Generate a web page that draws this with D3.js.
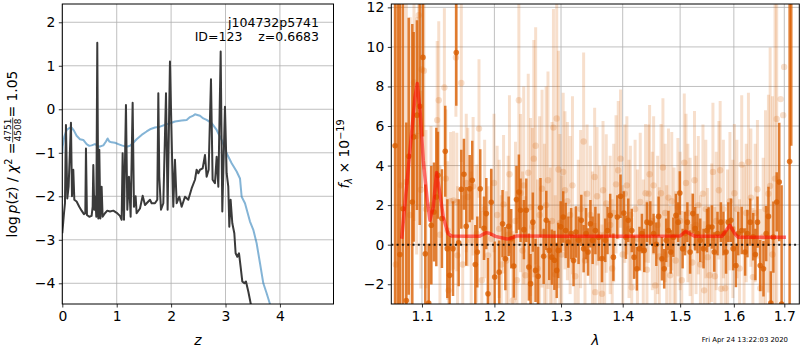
<!DOCTYPE html>
<html>
<head>
<meta charset="utf-8">
<script src="https://cdn.jsdelivr.net/npm/d3@7"></script>
<style>
  body { margin: 0; background: #fff; }
  svg { display: block; }
  text { font-family: "DejaVu Sans", sans-serif; fill: #000; }
</style>
</head>
<body>
<svg id="fig" width="800" height="350"></svg>
<script>
// ---------------- redshift panel ----------------
const zTicks = [0, 1, 2, 3, 4];
const logpTicks = [-4, -3, -2, -1, 0, 1, 2];

// log p(z) curve
const pzZ = [0.000,0.031,0.049,0.067,0.092,0.116,0.159,0.178,0.202,0.221,0.263,0.312,0.355,0.398,0.423,0.435,0.453,0.496,0.539,0.558,0.570,0.588,0.607,0.625,0.643,0.662,0.680,0.699,0.723,0.741,0.784,0.827,0.876,0.938,1.000,1.060,1.091,1.109,1.134,1.170,1.195,1.225,1.256,1.293,1.317,1.348,1.366,1.428,1.477,1.520,1.612,1.642,1.703,1.746,1.765,1.783,1.814,1.857,1.906,1.936,1.979,2.016,2.040,2.071,2.102,2.151,2.194,2.255,2.316,2.377,2.439,2.469,2.500,2.531,2.580,2.623,2.653,2.690,2.733,2.763,2.806,2.837,2.868,2.911,2.941,2.990,3.021,3.051,3.070,3.094,3.125,3.162,3.186,3.217,3.248,3.278,3.309,3.346,3.376,3.419,3.462,3.486];
const pzLog = [-2.85,-2.39,-2.16,-0.36,-2.05,-1.78,-0.31,-2.00,-1.39,-2.08,-2.12,-2.24,-2.33,-2.41,-2.39,-0.90,-2.43,-2.47,-2.45,-2.24,-1.28,-2.31,-2.01,-2.47,1.53,-2.51,-0.93,-2.51,-1.78,-2.47,-2.39,-2.33,-2.35,-2.33,-2.38,-2.45,-2.54,-1.01,-2.54,0.10,-2.31,-1.55,-2.47,0.15,-2.24,-2.00,-2.39,-2.28,-1.99,-2.20,-2.08,-2.16,-2.16,-2.08,0.37,-1.55,-2.31,-2.16,0.37,-2.31,1.10,-1.01,-2.24,-1.16,-2.16,-2.01,-2.24,-2.01,-2.08,-1.82,-1.62,-1.39,-1.47,-1.39,-1.36,-1.05,-1.55,-1.39,0.69,-1.62,-1.70,-1.09,-1.78,1.33,-2.35,0.06,-1.47,-1.78,-2.70,-2.08,-2.62,-2.85,-3.31,-3.39,-3.31,-3.62,-3.96,-4.00,-3.96,-4.19,-4.46,-4.61];

// smooth chi-square curve
const chiZ = [0.000,0.006,0.037,0.080,0.129,0.172,0.214,0.263,0.325,0.386,0.447,0.496,0.539,0.600,0.680,0.754,0.803,0.833,0.864,0.907,0.968,1.029,1.091,1.183,1.244,1.305,1.366,1.458,1.550,1.612,1.703,1.795,1.918,2.010,2.071,2.194,2.286,2.347,2.408,2.439,2.482,2.531,2.592,2.653,2.745,2.837,2.929,3.021,3.113,3.205,3.266,3.297,3.358,3.450,3.511,3.572,3.634,3.695,3.756,3.817,3.850];
const chiVal = [-1.01,-0.86,-0.63,-0.475,-0.43,-0.42,-0.49,-0.61,-0.69,-0.705,-0.80,-0.84,-0.83,-0.80,-0.86,-0.83,-0.74,-0.67,-0.74,-0.76,-0.77,-0.80,-0.83,-0.86,-0.84,-0.77,-0.69,-0.59,-0.51,-0.46,-0.42,-0.40,-0.345,-0.31,-0.28,-0.26,-0.245,-0.18,-0.145,-0.115,-0.13,-0.15,-0.21,-0.245,-0.32,-0.475,-0.705,-1.01,-1.24,-1.43,-1.59,-2.01,-2.16,-2.58,-2.77,-3.08,-3.54,-4.00,-4.23,-4.475,-4.70];

// ---------------- spectrum panel ----------------
const waveTicks = [1.1, 1.2, 1.3, 1.4, 1.5, 1.6, 1.7];
const fluxTicks = [-2, 0, 2, 4, 6, 8, 10, 12];

const darkWave = [1.0650,1.0685,1.0712,1.0752,1.0795,1.0826,1.0873,1.0891,1.0934,1.0970,1.1013,1.1044,1.1089,1.1124,1.1160,1.1191,1.1213,1.1267,1.1312,1.1340,1.1372,1.1418,1.1463,1.1496,1.1532,1.1569,1.1601,1.1649,1.1685,1.1728,1.1756,1.1798,1.1851,1.1884,1.1908,1.1955,1.2004,1.2069,1.2118,1.2159,1.2208,1.2245,1.2283,1.2323,1.2358,1.2383,1.2433,1.2469,1.2507,1.2533,1.2567,1.2608,1.2648,1.2683,1.2732,1.2772,1.2817,1.2858,1.2897,1.2933,1.2957,1.2995,1.3034,1.3073,1.3115,1.3159,1.3197,1.3235,1.3277,1.3321,1.3358,1.3397,1.3429,1.3467,1.3504,1.3548,1.3601,1.3656,1.3710,1.3747,1.3791,1.3844,1.3909,1.3964,1.4019,1.4054,1.4094,1.4153,1.4193,1.4240,1.4285,1.4327,1.4367,1.4414,1.4472,1.4529,1.4577,1.4617,1.4676,1.4716,1.4751,1.4791,1.4833,1.4878,1.4925,1.4965,1.4995,1.5045,1.5088,1.5131,1.5181,1.5231,1.5274,1.5317,1.5367,1.5428,1.5492,1.5522,1.5585,1.5628,1.5689,1.5753,1.5801,1.5851,1.5894,1.5944,1.5987,1.6040,1.6085,1.6152,1.6218,1.6263,1.6317,1.6376,1.6420,1.6461,1.6515,1.6580,1.6634,1.6679,1.6727,1.6778,1.6846,1.6897,1.6945,1.7109,1.7143];
const darkFlux = [5.0,-4.0,-0.5,1.82,-2.82,4.47,2.16,5.45,6.55,7.0,9.47,-0.46,-2.95,0.98,1.65,2.41,3.51,1.32,4.72,-0.2,-1.55,-0.2,9.72,0.1,2.8,3.56,0.93,2.83,3.26,-1.0,-0.37,2.83,0.83,1.57,-2.48,2.14,-1.64,-1.39,1.06,-0.71,0.93,0.3,-1.08,2.28,2.66,1.74,0.76,1.74,-1.13,-1.97,1.14,-1.3,-1.6,1.87,-0.59,1.23,-0.29,-0.63,-0.79,-1.3,-0.29,0.9,1.4,0.72,0.13,0.56,-0.8,0.64,0.22,1.23,-0.2,0.56,-0.37,1.06,0.22,0.72,0.38,-0.7,0.22,0.72,1.48,-0.63,1.4,2.45,1.6,0.38,1.23,0.72,-0.63,-1.22,-0.2,0.56,-0.29,1.14,1.09,0.56,0.02,1.43,-0.71,-1.22,0.22,0.72,-0.37,0.38,1.48,1.14,2.61,-0.2,0.56,1.14,-0.37,1.57,0.81,0.56,0.22,-0.2,0.72,0.89,0.89,-0.37,0.56,1.14,0.56,-0.37,1.14,1.23,-0.2,-1.05,0.56,0.72,-0.37,0.56,1.14,0.4,-0.5,1.14,-1.05,-1.22,0.56,1.43,-2.95,0.38,2.16,3.17,-3.0,4.2,14.0];
const darkErr = [20,18,16,12,9,7,9,5.3,4.8,6,4,3.5,3,3,2.5,3.5,2.2,2.5,2.3,2.5,2,2.4,2.7,2.2,2,1.8,2,1.7,2,2,1.8,2,1.6,1.8,1.8,1.7,1.8,1.6,1.7,1.6,1.5,1.5,1.6,1.7,1.9,1.6,1.5,1.6,1.7,1.5,1.5,1.6,1.5,1.5,1.4,1.5,1.5,1.4,1.5,1.4,1.4,1.3,1.3,1.4,1.3,1.3,1.3,1.3,1.2,1.3,1.2,1.3,1.2,1.2,1.2,1.2,1.2,1.2,1.1,1.2,1.1,1.2,1.1,1.1,1.1,1.1,1.1,1.1,1.1,1.1,1.1,1.0,1.1,1.0,1.1,1.0,1.1,1.0,1.1,1.0,1.1,1.0,1.1,1.0,1.1,1.0,1.1,1.0,1.1,1.0,1.1,1.0,1.1,1.0,1.1,1.0,1.1,1.0,1.1,1.0,1.1,1.0,1.1,1.1,1.0,1.1,1.1,1.1,1.1,1.2,1.2,1.2,1.2,1.2,1.3,1.3,1.3,1.4,1.4,1.5,1.6,1.8,1.5,3,6,9,9,2.8,6];

const lightWave = [1.0660,1.0725,1.0795,1.0845,1.0895,1.0930,1.0957,1.0985,1.0996,1.1026,1.1053,1.1120,1.1203,1.1224,1.1240,1.1300,1.1320,1.1344,1.1356,1.1385,1.1425,1.1458,1.1470,1.1480,1.1532,1.1552,1.1601,1.1623,1.1670,1.1697,1.1747,1.1780,1.1820,1.1860,1.1908,1.1955,1.1995,1.2040,1.2069,1.2100,1.2133,1.2174,1.2200,1.2219,1.2268,1.2308,1.2330,1.2358,1.2383,1.2413,1.2430,1.2458,1.2498,1.2533,1.2560,1.2582,1.2610,1.2638,1.2670,1.2707,1.2743,1.2770,1.2798,1.2833,1.2860,1.2882,1.2910,1.2933,1.2960,1.2982,1.3010,1.3034,1.3062,1.3100,1.3143,1.3180,1.3224,1.3272,1.3310,1.3358,1.3380,1.3413,1.3467,1.3500,1.3536,1.3545,1.3575,1.3613,1.3656,1.3673,1.3700,1.3726,1.3791,1.3824,1.3850,1.3888,1.3925,1.3964,1.4000,1.4036,1.4070,1.4106,1.4130,1.4153,1.4210,1.4250,1.4298,1.4350,1.4390,1.4414,1.4442,1.4460,1.4507,1.4530,1.4559,1.4600,1.4629,1.4660,1.4693,1.4733,1.4760,1.4791,1.4821,1.4850,1.4890,1.4920,1.4960,1.5000,1.5030,1.5075,1.5106,1.5140,1.5181,1.5220,1.5261,1.5290,1.5331,1.5370,1.5417,1.5440,1.5470,1.5503,1.5541,1.5580,1.5603,1.5640,1.5665,1.5715,1.5739,1.5760,1.5800,1.5833,1.5880,1.5925,1.5981,1.6010,1.6059,1.6110,1.6152,1.6198,1.6240,1.6283,1.6331,1.6370,1.6416,1.6460,1.6515,1.6574,1.6620,1.6679,1.6713,1.6760,1.6812,1.6846,1.6925,1.6977,1.6996];
const lightFlux = [-1.0,3.0,3.17,1.5,8.2,5.5,11.6,2.78,8.86,8.8,1.8,2.0,6.3,7.3,0.5,7.95,3.34,0.72,-2.31,2.2,2.24,9.47,2.16,-0.54,8.18,-1.0,3.12,2.41,0.2,2.95,0.56,5.87,-1.8,1.8,-0.54,0.3,3.12,1.5,0.8,-1.0,2.04,-0.8,0.5,3.56,-2.82,1.2,-1.8,7.3,2.61,-0.3,3.0,-1.55,3.64,1.9,0.9,4.35,5.0,-1.2,1.5,2.83,0.6,2.0,3.26,-0.6,1.2,5.92,-1.5,6.38,3.8,1.1,-0.5,3.68,2.75,2.2,1.5,3.0,-1.6,0.3,1.8,5.22,-0.8,2.58,1.5,0.2,3.42,-2.4,2.45,0.5,-2.48,2.75,0.5,2.08,1.0,-1.2,1.6,3.05,3.76,4.35,-0.5,2.58,3.0,0.8,1.5,-2.15,1.8,0.3,2.16,-0.2,2.6,-1.27,2.58,3.56,1.2,3.0,-2.06,1.0,-0.6,2.6,3.9,1.6,-0.5,2.38,-1.55,2.2,0.4,-0.8,1.9,1.2,-1.8,4.15,3.12,1.6,0.9,-0.9,3.26,1.0,2.0,-1.0,2.58,-2.31,1.8,-0.63,-1.55,0.6,3.68,-1.6,1.2,2.75,3.76,-2.23,1.8,-2.2,0.3,2.2,0.8,2.6,1.8,-1.2,4.05,0.5,1.6,4.18,2.38,-1.64,1.6,2.8,-2.2,0.4,1.8,2.58,2.97,-0.5,3.34,6.36,7.36,6.55,8.99];
const lightErr = [18,14,10,10,7,6,6,5,6,5,4,4,4,4,3.5,4,3.5,3.5,3,3.5,3.5,3,3.5,3.5,4,3.5,3.5,3.5,3.5,3.5,3.5,3.5,3.5,3.5,3.5,3.5,3.5,3.5,3.5,3.5,3.5,3.5,4,4,3.5,4,4,6,4,4,5,4,5,4.5,5,6,6,4.5,5,5,4.5,6,5.5,4.5,5,6,4,6,6,4.5,4,4,4,4,4,4.5,3.5,4,4,4.5,3.5,3.5,3.5,3.5,3.5,3.5,3.5,3.5,3.5,3.5,3.5,3.5,3.5,3.5,3.5,3.5,3.5,3.5,3.5,3.5,3.5,3.5,3.5,3.5,3.5,3.5,3.5,3.5,3.5,3.5,3.5,3.5,3.5,3.5,3.5,3.5,3.5,3.5,3.5,3.5,3.5,3.5,3.5,3.5,3.5,3.5,3.5,3.5,3.5,3.5,3.5,3.5,3.5,3.5,3.5,3.5,3.5,3.5,3.5,3.5,3.5,3.5,3.5,3.5,3.5,3.5,3.5,3.5,3.5,3.5,3.5,3.5,3.5,3.5,3.5,3.5,3.5,3.5,3.5,3.5,3.5,3.5,3.5,3.5,3.5,3.5,4,4,5,5,7,8,9,10];

// best-fit template
const modelWave = [1.0735,1.0908,1.0938,1.0974,1.1017,1.1070,1.1106,1.1150,1.1195,1.1240,1.1285,1.1350,1.1397,1.1600,1.1790,1.1881,1.1926,1.2016,1.2180,1.2217,1.2327,1.3000,1.4000,1.5000,1.5100,1.5175,1.5270,1.5770,1.5925,1.6020,1.6080,1.6500,1.7035];
const modelFlux = [0.30,7.47,8.15,6.80,4.27,2.24,1.23,1.90,3.65,2.58,1.40,0.56,0.44,0.43,0.43,0.61,0.58,0.42,0.29,0.30,0.44,0.43,0.43,0.44,0.68,0.55,0.42,0.42,0.98,0.55,0.38,0.38,0.38];

// ---------------- drawing ----------------
const svg = d3.select("#fig");
const L = { x0: 62.3, x1: 333.5, y0: 4, y1: 304 };
const R = { x0: 391.3, x1: 799.3, y0: 4, y1: 304 };
const FS = 13.9;

const xL = d3.scaleLinear().domain([0, 4.985]).range([L.x0, L.x1]);
const yL = d3.scaleLinear().domain([-4.476, 2.42]).range([L.y1, L.y0]);
const xR = d3.scaleLog().domain([1.0602, 1.7309]).range([R.x0, R.x1]);
const yR = d3.scaleLinear().domain([-3.0, 12.17]).range([R.y1, R.y0]);

const defs = svg.append("defs");
defs.append("clipPath").attr("id", "clipL").append("rect")
  .attr("x", L.x0).attr("y", L.y0).attr("width", L.x1 - L.x0).attr("height", L.y1 - L.y0);
defs.append("clipPath").attr("id", "clipR").append("rect")
  .attr("x", R.x0).attr("y", R.y0).attr("width", R.x1 - R.x0).attr("height", R.y1 - R.y0);

function grid(box, xs, ys, xv, yv) {
  const g = svg.append("g").attr("stroke", "#b0b0b0").attr("stroke-width", 0.8);
  g.selectAll(".gx").data(xv).join("line")
    .attr("x1", d => xs(d)).attr("x2", d => xs(d)).attr("y1", box.y0).attr("y2", box.y1);
  g.selectAll(".gy").data(yv).join("line")
    .attr("y1", d => ys(d)).attr("y2", d => ys(d)).attr("x1", box.x0).attr("x2", box.x1);
}

function axes(box, xs, ys, xv, yv, xfmt, yfmt) {
  const ax = svg.append("g").attr("transform", `translate(0,${box.y1})`)
    .call(d3.axisBottom(xs).tickValues(xv).tickFormat(xfmt).tickSize(3.5).tickPadding(3.5));
  const ay = svg.append("g").attr("transform", `translate(${box.x0},0)`)
    .call(d3.axisLeft(ys).tickValues(yv).tickFormat(yfmt).tickSize(3.5).tickPadding(3.5));
  [ax, ay].forEach(a => {
    a.select(".domain").remove();
    a.selectAll(".tick line").attr("stroke", "#000").attr("stroke-width", 0.8);
    a.selectAll(".tick text").style("font-family", "DejaVu Sans").style("font-size", FS + "px").attr("fill", "#000");
  });
  svg.append("rect").attr("x", box.x0).attr("y", box.y0)
    .attr("width", box.x1 - box.x0).attr("height", box.y1 - box.y0)
    .attr("fill", "none").attr("stroke", "#000").attr("stroke-width", 1);
}

// left panel
grid(L, xL, yL, zTicks, logpTicks);
const gL = svg.append("g").attr("clip-path", "url(#clipL)");
gL.append("path")
  .datum(d3.zip(chiZ, chiVal))
  .attr("d", d3.line().x(d => xL(d[0])).y(d => yL(d[1])))
  .attr("fill", "none").attr("stroke", "#1f77b4").attr("stroke-opacity", 0.55)
  .attr("stroke-width", 2).attr("stroke-linejoin", "round");
gL.append("path")
  .datum(d3.zip(pzZ, pzLog))
  .attr("d", d3.line().x(d => xL(d[0])).y(d => yL(d[1])))
  .attr("fill", "none").attr("stroke", "#3a3a3a")
  .attr("stroke-width", 2).attr("stroke-linejoin", "round");
axes(L, xL, yL, zTicks, logpTicks, d3.format("d"), d3.format("d"));

svg.append("text").attr("x", 319).attr("y", 27).attr("text-anchor", "end")
  .style("font-size", "12.5px").text("j104732p5741");
svg.append("text").attr("x", 319).attr("y", 41).attr("text-anchor", "end")
  .style("font-size", "12.5px").attr("xml:space", "preserve").text("ID=123    z=0.6683");

svg.append("text").attr("x", (L.x0 + L.x1) / 2).attr("y", 345).attr("text-anchor", "middle")
  .style("font-size", FS + "px").style("font-style", "italic").text("z");

// left y label: log p(z) / χ² = 4751/4508 = 1.05
(function () {
  const g = svg.append("g").attr("transform", `translate(16.5,${(L.y0 + L.y1) / 2}) rotate(-90)`);
  const t1 = g.append("text").style("font-size", FS + "px");
  t1.append("tspan").text("log\u2009");
  t1.append("tspan").style("font-style", "italic").text("p");
  t1.append("tspan").text("(");
  t1.append("tspan").style("font-style", "italic").text("z");
  t1.append("tspan").text(") / ");
  t1.append("tspan").style("font-style", "italic").text("\u03c7");
  t1.append("tspan").attr("dy", -5).style("font-size", "9.7px").text("2");
  t1.append("tspan").attr("dy", 5).text(" = ");
  const w1 = t1.node().getComputedTextLength();
  const num = g.append("text").style("font-size", "9px").attr("text-anchor", "middle").text("4751");
  const den = g.append("text").style("font-size", "9px").attr("text-anchor", "middle").text("4508");
  const wf = Math.max(num.node().getComputedTextLength(), den.node().getComputedTextLength()) + 2;
  const t2 = g.append("text").style("font-size", FS + "px").text(" = 1.05");
  const w2 = t2.node().getComputedTextLength();
  const x0 = -(w1 + wf + w2) / 2;
  t1.attr("x", x0);
  num.attr("x", x0 + w1 + wf / 2).attr("y", -5.2);
  den.attr("x", x0 + w1 + wf / 2).attr("y", 4.6);
  g.append("line").attr("x1", x0 + w1).attr("x2", x0 + w1 + wf)
    .attr("y1", -3.8).attr("y2", -3.8).attr("stroke", "#000").attr("stroke-width", 0.7);
  t2.attr("x", x0 + w1 + wf);
})();

// right panel
grid(R, xR, yR, waveTicks, fluxTicks);
const gR = svg.append("g").attr("clip-path", "url(#clipR)");
const orange = "#d95f02";

const light = d3.range(lightWave.length).map(i => ({ w: lightWave[i], f: lightFlux[i], e: lightErr[i] }));
const dark = d3.range(darkWave.length).map(i => ({ w: darkWave[i], f: darkFlux[i], e: darkErr[i] }));

gR.append("g").selectAll("line").data(light).join("line")
  .attr("x1", d => xR(d.w)).attr("x2", d => xR(d.w))
  .attr("y1", d => yR(d.f - d.e)).attr("y2", d => yR(d.f + d.e))
  .attr("stroke", orange).attr("stroke-opacity", 0.2).attr("stroke-width", 3);
gR.append("g").selectAll("circle").data(light).join("circle")
  .attr("cx", d => xR(d.w)).attr("cy", d => yR(d.f)).attr("r", 3.2)
  .attr("fill", orange).attr("fill-opacity", 0.2);

gR.append("g").selectAll("line").data(dark).join("line")
  .attr("x1", d => xR(d.w)).attr("x2", d => xR(d.w))
  .attr("y1", d => yR(d.f - d.e)).attr("y2", d => yR(d.f + d.e))
  .attr("stroke", orange).attr("stroke-opacity", 0.8).attr("stroke-width", 2.5);
gR.append("g").selectAll("circle").data(dark).join("circle")
  .attr("cx", d => xR(d.w)).attr("cy", d => yR(d.f)).attr("r", 2.8)
  .attr("fill", orange).attr("fill-opacity", 0.8);

gR.append("path")
  .datum(d3.zip(modelWave, modelFlux))
  .attr("d", d3.line().x(d => xR(d[0])).y(d => yR(d[1])))
  .attr("fill", "none").attr("stroke", "red").attr("stroke-opacity", 0.55)
  .attr("stroke-width", 3.5).attr("stroke-linejoin", "round");

gR.append("line").attr("x1", R.x0).attr("x2", R.x1).attr("y1", yR(0)).attr("y2", yR(0))
  .attr("stroke", "#000").attr("stroke-opacity", 0.85).attr("stroke-width", 2)
  .attr("stroke-dasharray", "2,3.3");

axes(R, xR, yR, waveTicks, fluxTicks, d3.format(".1f"), d3.format("d"));

svg.append("text").attr("x", (R.x0 + R.x1) / 2).attr("y", 345).attr("text-anchor", "middle")
  .style("font-size", FS + "px").style("font-style", "italic").text("\u03bb");

// right y label: f_λ × 10^-19
(function () {
  const g = svg.append("g").attr("transform", `translate(349,${(R.y0 + R.y1) / 2}) rotate(-90)`);
  const t = g.append("text").attr("text-anchor", "middle").style("font-size", FS + "px");
  t.append("tspan").style("font-style", "italic").text("f");
  t.append("tspan").attr("dy", 3).style("font-size", "9.7px").style("font-style", "italic").text("\u03bb");
  t.append("tspan").attr("dy", -3).text(" \u00d7 10");
  t.append("tspan").attr("dy", -5.5).style("font-size", "9.7px").text("\u221219");
})();

svg.append("text").attr("x", 788).attr("y", 342).attr("text-anchor", "end")
  .style("font-size", "6.9px").text("Fri Apr 24 13:22:03 2020");
</script>
</body>
</html>
